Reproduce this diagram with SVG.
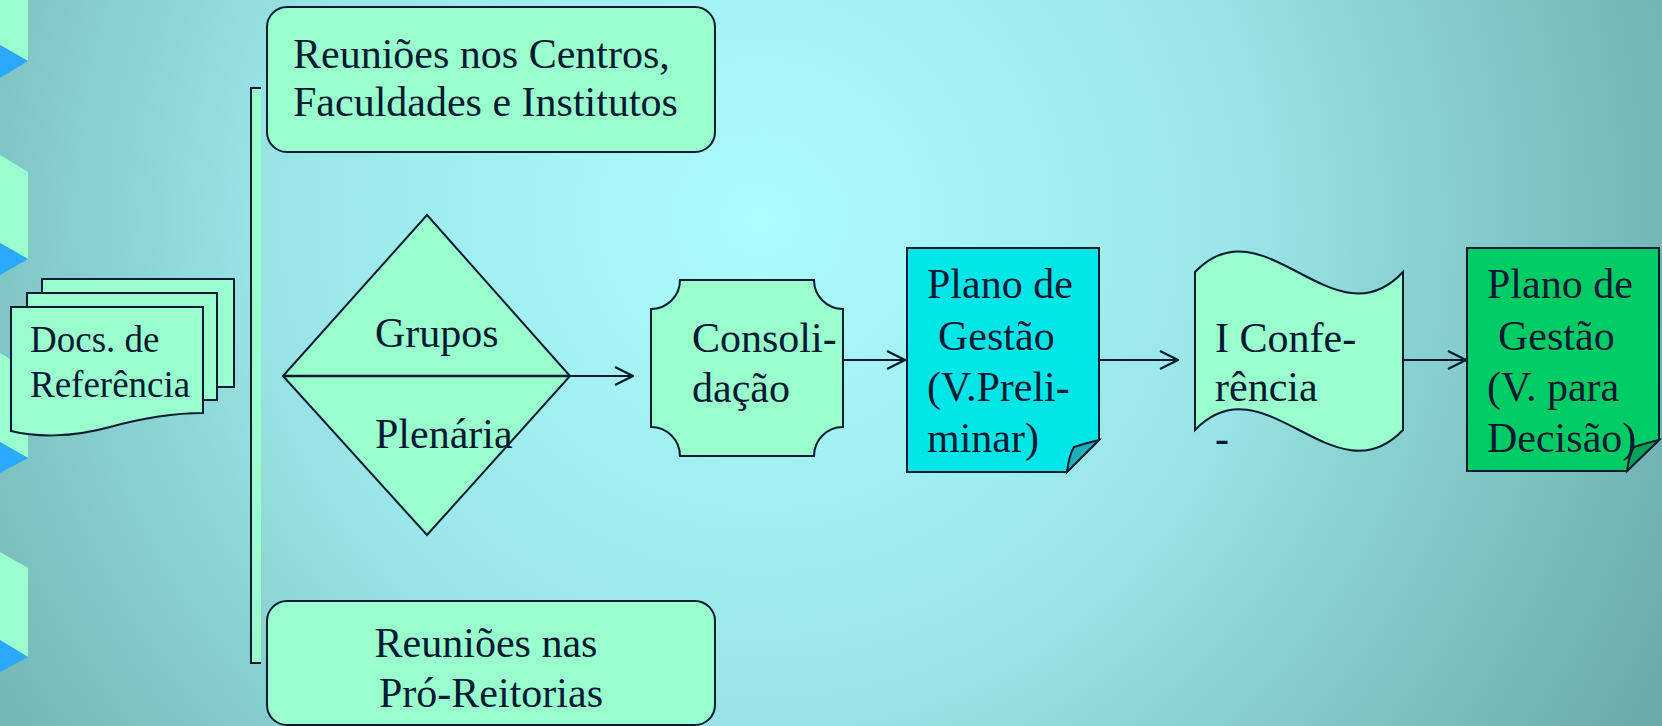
<svg xmlns="http://www.w3.org/2000/svg" width="1662" height="726" viewBox="0 0 1662 726">
<defs>
<radialGradient id="bg" gradientUnits="userSpaceOnUse" cx="760" cy="220" r="1050">
<stop offset="0" stop-color="#adfcfc"/>
<stop offset="0.45" stop-color="#9ae6e6"/>
<stop offset="1" stop-color="#68a6a6"/>
</radialGradient>
<marker id="arr" viewBox="0 0 20 20" refX="19" refY="10" markerWidth="20" markerHeight="20" markerUnits="userSpaceOnUse" orient="auto">
<path d="M1,1 L19,10 L1,19" fill="none" stroke="#0a1a33" stroke-width="2.2"/>
</marker>
<style>
.sh{stroke:#0a1a33;stroke-width:2;stroke-linejoin:miter}
.mint{fill:#99ffcc}
.t{font-family:"Liberation Serif","Times New Roman",serif;font-size:42px;fill:#001933}
.td{font-family:"Liberation Serif","Times New Roman",serif;font-size:37px;fill:#001933}
.con{fill:none;stroke:#0a1a33;stroke-width:2;marker-end:url(#arr)}
.strip{fill:#99ffcc}
.tri{fill:#29a9ff}
</style>
</defs>
<rect x="0" y="0" width="1662" height="726" fill="url(#bg)"/>
<g id="sidebar">
<polygon class="strip" points="0,0 28,0 28,61 0,45"/>
<polygon class="tri" points="0,45 28,61 0,78"/>
<polygon class="strip" points="0,155 28,172 28,259 0,243"/>
<polygon class="tri" points="0,243 28,259 0,275"/>
<polygon class="strip" points="0,353 28,370 28,458 0,442"/>
<polygon class="tri" points="0,442 28,458 0,473"/>
<polygon class="strip" points="0,552 28,568 28,657 0,640"/>
<polygon class="tri" points="0,640 28,657 0,672"/>
</g>
<g id="bracket">
<rect x="252" y="88" width="9" height="575" fill="#99ffcc"/>
<path d="M261,88 H251 V663 H261" fill="none" stroke="#0a1a33" stroke-width="2"/>
</g>
<g id="docs">
<rect class="sh mint" x="42" y="279" width="192" height="108"/>
<rect class="sh mint" x="27" y="293" width="190" height="107"/>
<path class="sh mint" d="M11,307 H203 V413 C180,413 150,416 110,427 C70,438 35,437 11,431 Z"/>
<text class="td" x="30" y="352">Docs. de</text>
<text class="td" x="30" y="397">Referência</text>
</g>
<g id="reunioes-centros">
<rect class="sh mint" x="267" y="7" width="448" height="145" rx="20" ry="20"/>
<text class="t" x="293" y="68">Reuniões nos Centros,</text>
<text class="t" x="293" y="116">Faculdades e Institutos</text>
</g>
<g id="reunioes-pro-reitorias">
<rect class="sh mint" x="267" y="601" width="448" height="124" rx="20" ry="20"/>
<text class="t" x="486" y="657" text-anchor="middle">Reuniões nas</text>
<text class="t" x="491" y="707" text-anchor="middle">Pró-Reitorias</text>
</g>
<g id="grupos-plenaria">
<polygon class="sh mint" points="427,215 570,376 427,535 283,376"/>
<line x1="283" y1="376" x2="570" y2="376" stroke="#0a1a33" stroke-width="2.5"/>
<text class="t" x="375" y="347">Grupos</text>
<text class="t" x="375" y="448">Plenária</text>
</g>
<g id="consolidacao">
<path class="sh mint" d="M680,280 H814 A29,29 0 0 0 843,309 V427 A29,29 0 0 0 814,456 H680 A29,29 0 0 0 651,427 V309 A29,29 0 0 0 680,280 Z"/>
<text class="t" x="692" y="352">Consoli-</text>
<text class="t" x="692" y="402">dação</text>
</g>
<g id="plano-preliminar">
<path class="sh" fill="#00e6e6" d="M907,248 H1099 V440 L1067,472 H907 Z"/>
<path class="sh" fill="#1ab3b3" d="M1067,472 Q1069,455 1074,447 Q1086,443 1099,440 Z"/>
<text class="t" x="927" y="298">Plano de</text>
<text class="t" x="938" y="350">Gestão</text>
<text class="t" x="927" y="401">(V.Preli-</text>
<text class="t" x="927" y="452">minar)</text>
</g>
<g id="conferencia">
<path class="sh mint" d="M1195,272 C1264,200 1334,346 1403,272 V430 C1334,502 1264,358 1195,430 Z"/>
<text class="t" x="1215" y="352">I Confe-</text>
<text class="t" x="1215" y="401">rência</text>
<text class="t" x="1215" y="452">-</text>
</g>
<g id="plano-decisao">
<path class="sh" fill="#00cc66" d="M1467,248 H1659 V440 L1627,471 H1467 Z"/>
<path class="sh" fill="#00a352" d="M1627,471 Q1629,455 1634,447 Q1646,443 1659,440 Z"/>
<text class="t" x="1487" y="298">Plano de</text>
<text class="t" x="1498" y="350">Gestão</text>
<text class="t" x="1487" y="401">(V. para</text>
<text class="t" x="1487" y="452">Decisão)</text>
</g>
<g id="connectors">
<path class="con" d="M570,376 H633"/>
<path class="con" d="M843,360 H905"/>
<path class="con" d="M1099,360 H1178"/>
<path class="con" d="M1403,360 H1466"/>
</g>
</svg>
